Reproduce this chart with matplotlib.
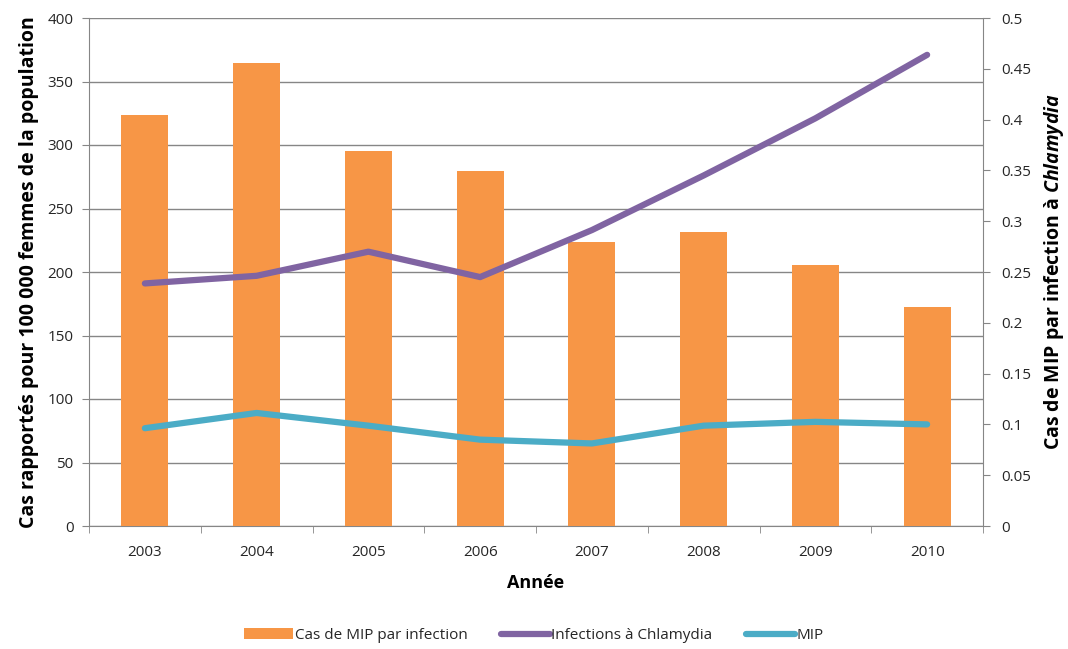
import numpy as np
import matplotlib.pyplot as plt

plt.rcParams['font.family'] = ['Open Sans', 'DejaVu Sans']
plt.rcParams['mathtext.fontset'] = 'custom'
plt.rcParams['mathtext.it'] = 'Open Sans:italic:bold'
plt.rcParams['mathtext.rm'] = 'Open Sans:bold'

# data
years = ['2003', '2004', '2005', '2006', '2007', '2008', '2009', '2010']
mip_per_infection = [0.405, 0.456, 0.369, 0.349, 0.280, 0.289, 0.257, 0.216]
chlamydia = [191, 197, 216, 196, 233, 276, 321, 371]
mip = [77, 89, 79, 68, 65, 79, 82, 80]

orange = '#F79646'
purple = '#8064A2'
teal = '#4BACC6'
grey = '#868686'
txt = '#262626'

x = np.arange(len(years))

fig = plt.figure(figsize=(10.68, 6.49), dpi=100)
pos = [89 / 1068, 123 / 649, (983 - 89) / 1068, (526 - 18) / 649]

# bottom layer: left scale, grid
ax = fig.add_axes(pos)
ax.set_xlim(-0.5, len(years) - 0.5)
ax.set_ylim(0, 400)
ax.set_yticks(np.arange(0, 401, 50))
ax.yaxis.grid(True, color=grey, lw=1)
ax.set_axisbelow(True)
for s in ['top', 'right']:
    ax.spines[s].set_visible(False)
for s in ['left', 'bottom']:
    ax.spines[s].set_color(grey)
ax.set_xticks(x)
ax.set_xticklabels(years)
ax.set_xticks(np.arange(-0.5, len(years)), minor=True)
ax.tick_params(axis='x', which='major', length=0, pad=14, labelsize=11, labelcolor=txt)
ax.tick_params(axis='x', which='minor', length=5, color=grey, direction='out')
ax.tick_params(axis='y', length=5, color=grey, pad=6, labelsize=11, labelcolor=txt)
ax.set_xlabel('Année', fontweight='bold', fontsize=13, labelpad=10, color='black')
ax.set_ylabel('Cas rapportés pour 100 000 femmes de la population',
              fontweight='bold', fontsize=14, labelpad=6, color='black')

# middle layer: bars on right scale
ax2 = ax.twinx()
ax2.set_ylim(0, 0.5)
ax2.set_yticks(np.arange(0, 0.501, 0.05))
ax2.set_yticklabels(['0', '0.05', '0.1', '0.15', '0.2', '0.25', '0.3', '0.35',
                     '0.4', '0.45', '0.5'])
bars = ax2.bar(x, mip_per_infection, width=0.42, color=orange,
               label='Cas de MIP par infection')
for s in ['top', 'left', 'bottom']:
    ax2.spines[s].set_visible(False)
ax2.spines['right'].set_color(grey)
ax2.tick_params(axis='y', length=5, color=grey, pad=8, labelsize=11, labelcolor=txt)
ax2.set_ylabel(r'Cas de MIP par infection à $\it{Chlamydia}$',
               fontweight='bold', fontsize=14, labelpad=8, color='black')
ax2.patch.set_visible(False)

# top layer: lines on left scale
ax3 = fig.add_axes(pos, sharex=ax, sharey=ax)
ax3.patch.set_visible(False)
ax3.axis('off')
l1, = ax3.plot(x, chlamydia, color=purple, lw=4.5, solid_capstyle='round',
               label='Infections à Chlamydia')
l2, = ax3.plot(x, mip, color=teal, lw=4.5, solid_capstyle='round', label='MIP')

ax.set_zorder(0)
ax2.set_zorder(1)
ax3.set_zorder(2)

fig.legend(handles=[bars, l1, l2], loc='lower center', ncol=3, frameon=False,
           bbox_to_anchor=(0.5, -0.012), fontsize=11, handlelength=3.2,
           handletextpad=0.1, columnspacing=2.2, labelcolor=txt)

fig.savefig('out.png', dpi=100)
